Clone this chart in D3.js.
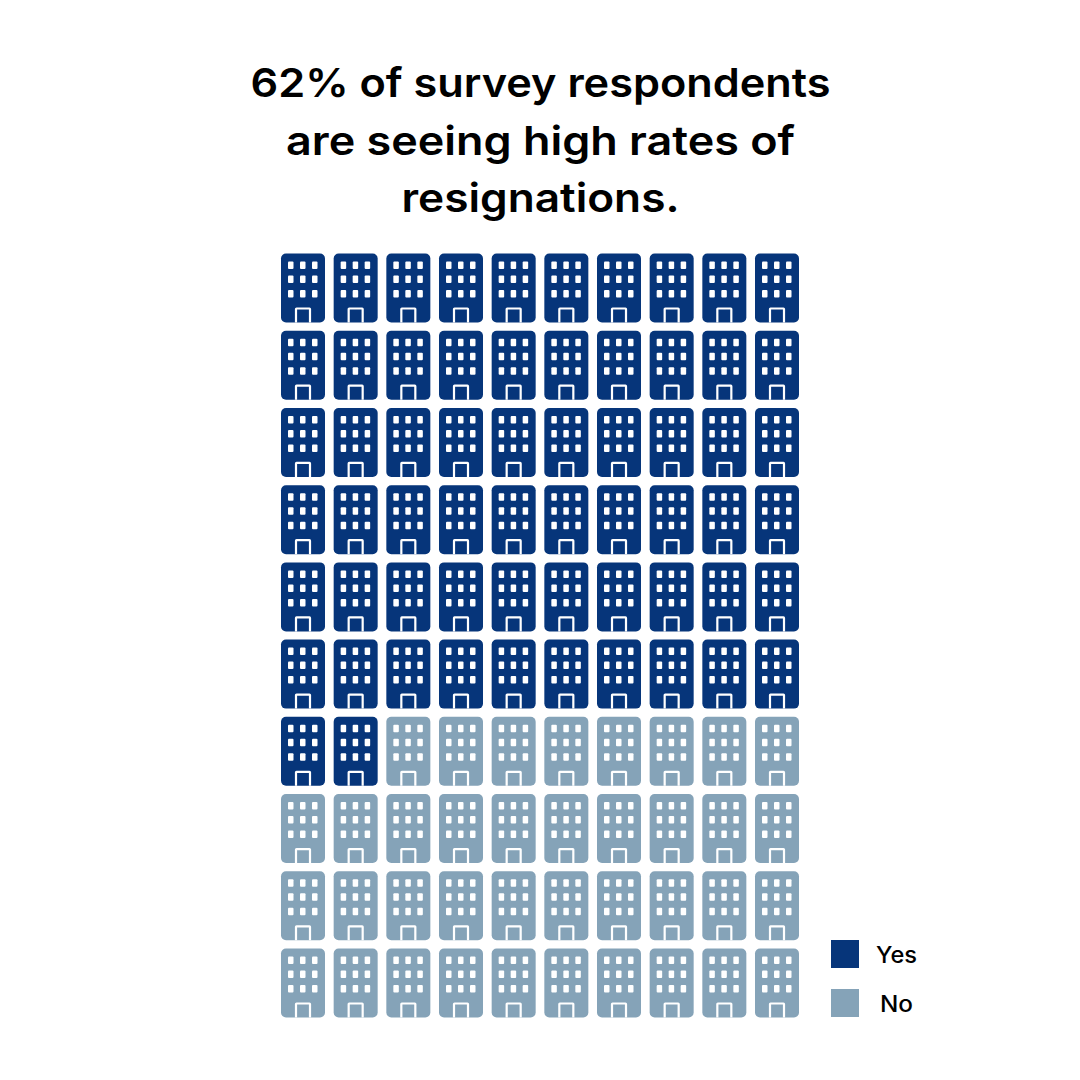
<!DOCTYPE html>
<html>
<head>
<meta charset="utf-8">
<script src="https://cdn.jsdelivr.net/npm/d3@7"></script>
<style>
  html, body { margin: 0; padding: 0; background: #fff; }
  text { font-family: Inter, "Open Sans", sans-serif; }
</style>
</head>
<body>
<div id="chart"></div>
<script>
const titleLines = ["62% of survey respondents", "are seeing high rates of", "resignations."];
const titleWidths = [580, 509, 278];
const categories = ["Yes", "No"];
const values = [62, 38];
const colors = ["#06357a", "#85a3b8"];
const columns = d3.range(10);
const rows = d3.range(10);

const width = 1080;
const height = 1080;

const svg = d3.select("#chart").append("svg")
  .attr("width", width)
  .attr("height", height)
  .style("display", "block");

// the original face is wider than anything installed, so stretch each line to its width
svg.selectAll(".title")
  .data(titleLines)
  .enter()
  .append("text")
  .attr("class", "title")
  .attr("x", 540.5)
  .attr("y", (d, i) => 97 + i * 57.5)
  .attr("text-anchor", "middle")
  .attr("font-size", 40)
  .attr("font-weight", 600)
  .attr("fill", "#000")
  .attr("textLength", (d, i) => titleWidths[i])
  .attr("lengthAdjust", "spacingAndGlyphs")
  .text(d => d);

// one entry per building, filled row by row
const cells = categories.flatMap((c, k) => d3.range(values[k]).map(() => c));

const iconW = 44;
const iconH = 69;
const x = d3.scalePoint().domain(columns).range([281, 755]);
const y = d3.scalePoint().domain(rows).range([253.5, 948.5]);
const color = d3.scaleOrdinal().domain(categories).range(colors);

const icons = svg.selectAll(".building")
  .data(cells)
  .enter()
  .append("g")
  .attr("class", "building")
  .attr("transform", (d, i) => `translate(${x(i % 10)},${y(Math.floor(i / 10))})`);

icons.append("rect")
  .attr("width", iconW)
  .attr("height", iconH)
  .attr("rx", 5)
  .attr("fill", d => color(d));

// three rows of three windows
const windowX = [7, 19, 31];
const windowY = [8, 22, 36.5];
windowY.forEach(wy => {
  windowX.forEach(wx => {
    icons.append("rect")
      .attr("x", wx)
      .attr("y", wy)
      .attr("width", 5.5)
      .attr("height", 7.5)
      .attr("rx", 1)
      .attr("fill", "#fff");
  });
});

// door is an open outline reaching the bottom edge
icons.append("path")
  .attr("d", "M15,69V55.5Q15,55 15.5,55H28.5Q29,55 29,55.5V69")
  .attr("fill", "none")
  .attr("stroke", "#fff")
  .attr("stroke-width", 2.2);

const legendY = [940, 989];
const legendTextWidths = [41, 33];
categories.forEach((c, i) => {
  svg.append("rect")
    .attr("x", 831)
    .attr("y", legendY[i])
    .attr("width", 28)
    .attr("height", 28)
    .attr("fill", colors[i]);
  svg.append("text")
    .attr("x", 896.5)
    .attr("y", legendY[i] + 22.5)
    .attr("text-anchor", "middle")
    .attr("font-size", 22.5)
    .attr("font-weight", 500)
    .attr("fill", "#000")
    .attr("textLength", legendTextWidths[i])
    .attr("lengthAdjust", "spacingAndGlyphs")
    .text(c);
});
</script>
</body>
</html>
